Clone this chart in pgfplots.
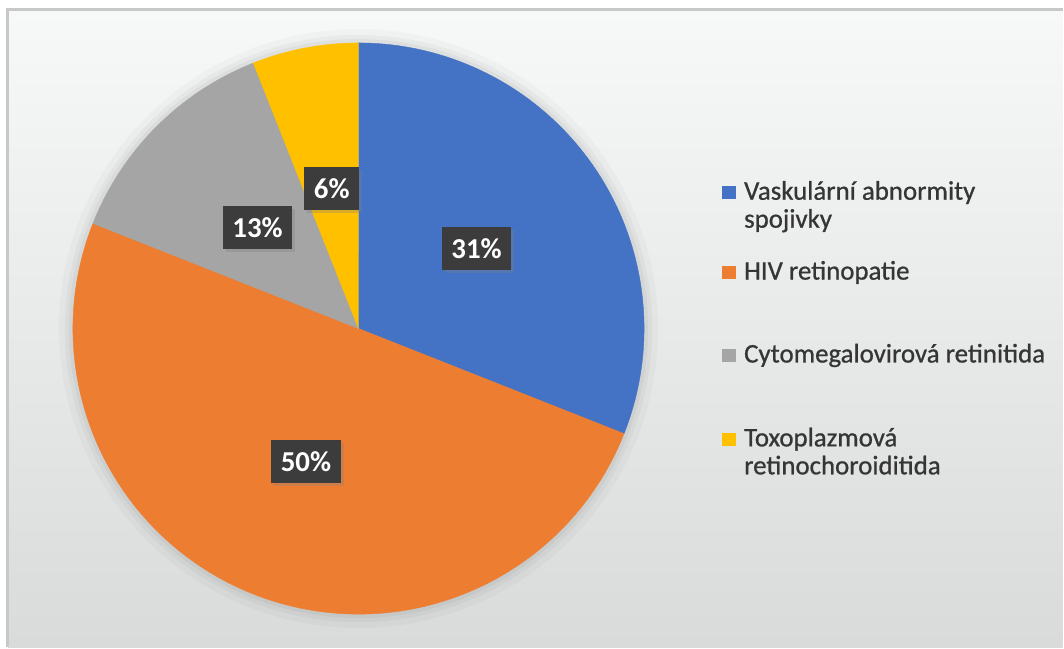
\documentclass[border=0pt]{standalone}
\usepackage{pgfplots}
\usepackage{pgfplotstable}
\pgfplotsset{compat=1.18}
\usepackage{fontspec}
\setmainfont{Carlito}
\usetikzlibrary{shadows}
\definecolor{cBlue}{HTML}{4472C4}
\definecolor{cOrange}{HTML}{ED7D31}
\definecolor{cGray}{HTML}{A5A5A5}
\definecolor{cYellow}{HTML}{FFC000}
\definecolor{lblbox}{HTML}{3C3C3C}
\definecolor{legtext}{HTML}{353535}
\definecolor{bgtop}{HTML}{F7F8F8}
\definecolor{bgbot}{HTML}{D9DBDB}
\definecolor{frame}{HTML}{C8C8C8}

\pgfplotstableread{
value
31
50
13
6
}\piedata

\pgfplotstablegetelem{0}{value}\of\piedata \let\vA\pgfplotsretval
\pgfplotstablegetelem{1}{value}\of\piedata \let\vB\pgfplotsretval
\pgfplotstablegetelem{2}{value}\of\piedata \let\vC\pgfplotsretval
\pgfplotstablegetelem{3}{value}\of\piedata \let\vD\pgfplotsretval

\def\cx{359}
\def\cy{319}
\def\R{286}
\pgfmathsetmacro\tot{\vA+\vB+\vC+\vD}
\pgfmathsetmacro\aA{90}
\pgfmathsetmacro\aB{\aA-\vA/\tot*360}
\pgfmathsetmacro\aC{\aB-\vB/\tot*360}
\pgfmathsetmacro\aD{\aC-\vC/\tot*360}
\pgfmathsetmacro\aE{\aD-\vD/\tot*360}
\pgfmathsetmacro\lAx{\cx+0.5*\R*cos((\aA+\aB)/2)}
\pgfmathsetmacro\lAy{\cy+0.5*\R*sin((\aA+\aB)/2)}
\pgfmathsetmacro\lBx{\cx+0.5*\R*cos((\aB+\aC)/2)}
\pgfmathsetmacro\lBy{\cy+0.5*\R*sin((\aB+\aC)/2)}
\pgfmathsetmacro\lCx{\cx+0.5*\R*cos((\aC+\aD)/2)}
\pgfmathsetmacro\lCy{\cy+0.5*\R*sin((\aC+\aD)/2)}
\pgfmathsetmacro\lDx{\cx+0.5*\R*cos((\aD+\aE)/2)}
\pgfmathsetmacro\lDy{\cy+0.5*\R*sin((\aD+\aE)/2)}

\tikzset{lbl/.style={fill=lblbox, text=white, font=\bfseries\fontsize{29}{29}\selectfont,
  inner xsep=9.5bp, inner ysep=0bp, minimum height=43bp,
  drop shadow={shadow xshift=3bp, shadow yshift=-3bp, opacity=0.3}},
  legtxt/.style={anchor=base west, inner sep=0pt, text=legtext,
  font=\fontsize{27}{28}\selectfont\addfontfeature{FakeBold=0.8}}}

\begin{document}
\begin{tikzpicture}
\begin{axis}[
  scale only axis, width=1064bp, height=648bp,
  xmin=0, xmax=1064, ymin=0, ymax=648,
  hide axis, clip=false,
]
\fill[white] (axis cs:0,0) rectangle (axis cs:1064,648);
\shade[top color=bgtop, bottom color=bgbot] (axis cs:8,0) rectangle (axis cs:1064,638);
\draw[frame, line width=3bp] (axis cs:8,0) -- (axis cs:8,638) -- (axis cs:1064,638);

% soft halo around the pie
\addplot[draw=none, fill=black, fill opacity=0.025, domain=0:360, samples=180, variable=\t]
  ({\cx+(\R+14)*cos(\t)},{\cy+(\R+14)*sin(\t)}) -- cycle;
\addplot[draw=none, fill=black, fill opacity=0.03, domain=0:360, samples=180, variable=\t]
  ({\cx+(\R+8)*cos(\t)},{\cy+(\R+8)*sin(\t)}) -- cycle;
\addplot[draw=none, fill=black, fill opacity=0.035, domain=0:360, samples=180, variable=\t]
  ({\cx+(\R+4)*cos(\t)},{\cy+(\R+4)*sin(\t)}) -- cycle;

\addplot[draw=cBlue, fill=cBlue, line width=0.4bp, domain=\aB:\aA, samples=150, variable=\t]
  ({\cx+\R*cos(\t)},{\cy+\R*sin(\t)}) -- (axis cs:\cx,\cy) -- cycle;
\addplot[draw=cOrange, fill=cOrange, line width=0.4bp, domain=\aC:\aB, samples=200, variable=\t]
  ({\cx+\R*cos(\t)},{\cy+\R*sin(\t)}) -- (axis cs:\cx,\cy) -- cycle;
\addplot[draw=cGray, fill=cGray, line width=0.4bp, domain=\aD:\aC, samples=80, variable=\t]
  ({\cx+\R*cos(\t)},{\cy+\R*sin(\t)}) -- (axis cs:\cx,\cy) -- cycle;
\addplot[draw=cYellow, fill=cYellow, line width=0.4bp, domain=\aE:\aD, samples=50, variable=\t]
  ({\cx+\R*cos(\t)},{\cy+\R*sin(\t)}) -- (axis cs:\cx,\cy) -- cycle;

\node[lbl] at (axis cs:\lAx,\lAy) {\vA\%};
\node[lbl] at (axis cs:\lBx,\lBy) {\vB\%};
\node[lbl] at (axis cs:\lCx,\lCy) {\vC\%};
\node[lbl] at (axis cs:\lDx,\lDy) {\vD\%};

% legend
\fill[cBlue]   (axis cs:723,448.5) rectangle (axis cs:737,461.5);
\node[legtxt] at (axis cs:745,448) {Vaskulární abnormity};
\node[legtxt] at (axis cs:745,420) {spojivky};
\fill[cOrange] (axis cs:723,368.5) rectangle (axis cs:737,381.5);
\node[legtxt] at (axis cs:745,368) {HIV retinopatie};
\fill[cGray]   (axis cs:723,285.5) rectangle (axis cs:737,298.5);
\node[legtxt] at (axis cs:745,285) {Cytomegalovirová retinitida};
\fill[cYellow] (axis cs:723,201.5) rectangle (axis cs:737,214.5);
\node[legtxt] at (axis cs:745,201) {Toxoplazmová};
\node[legtxt] at (axis cs:745,173) {retinochoroiditida};
\end{axis}
\end{tikzpicture}
\end{document}
